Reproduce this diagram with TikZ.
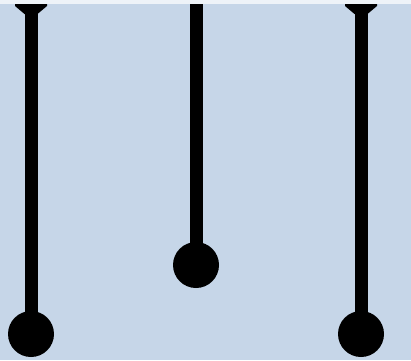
\documentclass[tikz,border=0pt]{standalone}
\usepackage{tikz}
\usetikzlibrary{positioning, calc}
\definecolor{fondo}{RGB}{198,214,232}
\definecolor{franja}{RGB}{238,243,248}

\begin{document}
\begin{tikzpicture}[x=1pt, y=-1pt,
            bola/.style={circle, fill=black, minimum size=46pt, inner sep=0pt},
            varilla/.style={line width=13pt, black},
            embudo/.style={fill=black}]

            \fill[fondo] (0,0) rectangle (411,360);
            \fill[franja] (0,0) rectangle (411,4);
            \useasboundingbox (0,0) rectangle (411,360);

            \coordinate (topI) at (31,4);
            \coordinate (topC) at (196,4);
            \coordinate (topD) at (361,4);

            \node[bola] (bolaI) at (31,334) {};
            \node[bola] (bolaC) at (196,265) {};
            \node[bola] (bolaD) at (361,334) {};

            \draw[varilla] (topI) -- (bolaI.center);
            \draw[varilla] (topC) -- (bolaC.center);
            \draw[varilla] (topD) -- (bolaD.center);

            % embudos arriba
            \fill[embudo] ($(topI)+(-16,0)$) -- ++(32,0) -- ++(0,2) -- ++(-9.5,8) -- ++(-13,0) -- ++(-9.5,-8) -- cycle;
            \fill[embudo] ($(topD)+(-16,0)$) -- ++(32,0) -- ++(0,2) -- ++(-9.5,8) -- ++(-13,0) -- ++(-9.5,-8) -- cycle;
        \end{tikzpicture}
\end{document}
